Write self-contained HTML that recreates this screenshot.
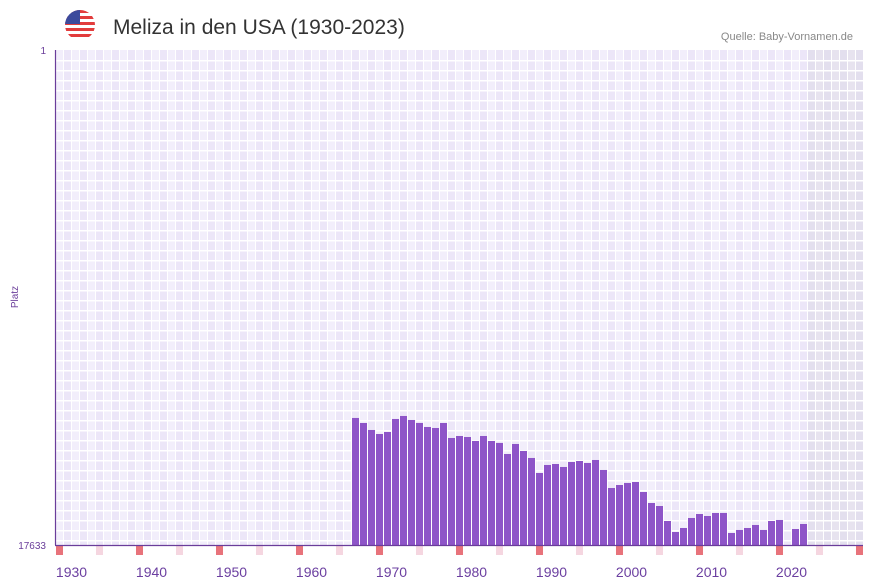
<!DOCTYPE html>
<html><head><meta charset="utf-8"><style>
body{margin:0;background:#fff;font-family:"Liberation Sans",sans-serif}
svg{display:block}
</style></head><body>
<svg id="c" width="873" height="587">
  <defs><clipPath id="fc"><circle cx="80" cy="25" r="15"/></clipPath></defs>
  <g clip-path="url(#fc)">
      <rect x="65" y="10" width="30" height="30" fill="#fff"/>
      <rect x="65" y="10" width="30" height="3" fill="#e23c3c"/>
      <rect x="65" y="16" width="30" height="3" fill="#e23c3c"/>
      <rect x="65" y="22" width="30" height="3" fill="#e23c3c"/>
      <rect x="65" y="28" width="30" height="3" fill="#e23c3c"/>
      <rect x="65" y="34" width="30" height="3" fill="#e23c3c"/>
      <rect x="65" y="10" width="15" height="14" fill="#3c4a9c"/>
  </g>
  <text x="113" y="34" font-size="21" fill="#333">Meliza in den USA (1930-2023)</text>
  <text x="853" y="40" font-size="11" fill="#888" text-anchor="end">Quelle: Baby-Vornamen.de</text>
  <g id="grid"></g>
  <g id="bars"></g>
  <g id="marks"></g>
  <line x1="55.5" y1="50" x2="55.5" y2="545" stroke="#6a3d9a" stroke-width="1.2"/>
  <line x1="55" y1="545.5" x2="863" y2="545.5" stroke="#6a3d9a" stroke-width="1.2"/>
  <text x="46" y="54" font-size="10" fill="#6a3d9a" text-anchor="end">1</text>
  <text x="46" y="549" font-size="10" fill="#6a3d9a" text-anchor="end">17633</text>
  <text transform="translate(18,297) rotate(-90)" font-size="10" fill="#6a3d9a" text-anchor="middle">Platz</text>
  <g id="xt"></g>
</svg>
<script>
const years = [];
for (let y = 1965; y <= 2021; y++) years.push(y);
const ranks = [13108,13287,13536,13679,13608,13144,13037,13180,13287,13429,13465,13287,13821,13750,13786,13928,13750,13928,13999,14391,14035,14284,14533,15068,14783,14748,14854,14676,14641,14712,14605,14961,15603,15496,15425,15389,15745,16137,16244,16778,17170,17027,16671,16529,16600,16493,16493,17205,17098,17027,16920,17098,16778,16742,null,17063,16885];
const xTickLabels = ["1930","1940","1950","1960","1970","1980","1990","2000","2010","2020"];
const startYear = 1928, endYear = 2028, shadeFrom = 2022;
const rankMin = 1, rankMax = 17633;
const X0 = 56, COL = 8, Y0 = 50, Y1 = 545;
const xs = y => X0 + (y - startYear) * COL;
const ys = r => Y0 + (r - rankMin) / (rankMax - rankMin) * (Y1 - Y0);
const NS = "http://www.w3.org/2000/svg";
function mk(tag, attrs, parent) {
  const e = document.createElementNS(NS, tag);
  for (const k in attrs) e.setAttribute(k, attrs[k]);
  parent.appendChild(e); return e;
}
const grid = document.getElementById('grid');
mk('rect', {x:55, y:50, width:808, height:495, fill:'#fff'}, grid);
for (let y = startYear; y <= endYear; y++) {
  const shaded = y >= shadeFrom;
  const even = (y - startYear) % 2 === 0;
  const fill = shaded ? (even ? '#e3dfee' : '#e7e3ef') : (even ? '#f2eefb' : '#ece6f8');
  const r = mk('rect', {x: xs(y), y: 50, width: 7, height: 495, fill}, grid);
  
  
}
for (let gy = 60; gy < 545; gy += 10) {
  mk('rect', {x:55, y:gy, width:808, height:1.5, fill:'#fff'}, grid);
}
const bars = document.getElementById('bars');
years.forEach((y, i) => {
  if (ranks[i] == null) return;
  const top = ys(ranks[i]);
  const b = mk('rect', {x: xs(y), y: top, width: 7, height: Y1 - top, fill: '#8e55c8'}, bars);
  
  
});
const marks = document.getElementById('marks');
for (let y = startYear; y <= endYear; y += 5) {
  const dec = (y - startYear) % 10 === 0;
  const m = mk('rect', {x: xs(y), y: 546, width: 7, height: 9, fill: dec ? '#e8737b' : '#f5d6e0'}, marks);
  
  
}
const xt = document.getElementById('xt');
xTickLabels.forEach(l => {
  const t = mk('text', {x: xs(+l) - 0.5, y: 577, 'font-size': 14, fill: '#6b3fa0', 'text-anchor': 'middle'}, xt);
  t.textContent = l;
  
  
});
</script>
</body></html>
